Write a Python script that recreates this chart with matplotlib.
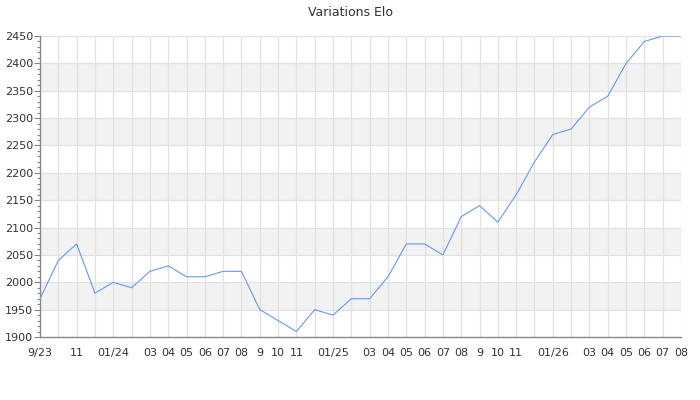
import matplotlib
matplotlib.use("Agg")
import matplotlib.pyplot as plt
from matplotlib.ticker import MultipleLocator

# one point per month, 9/23 .. 08/26
months = list(range(36))
elo = [1970, 2040, 2070, 1980, 2000, 1990, 2020, 2030, 2010, 2010, 2020, 2020,
       1950, 1930, 1910, 1950, 1940, 1970, 1970, 2010, 2070, 2070, 2050, 2120,
       2140, 2110, 2160, 2220, 2270, 2280, 2320, 2340, 2400, 2440, 2450, 2450]

tick_pos = [0, 2, 4, 6, 7, 8, 9, 10, 11, 12, 13, 14, 16, 18, 19, 20, 21, 22, 23,
            24, 25, 26, 28, 30, 31, 32, 33, 34, 35]
tick_lab = ["9/23", "11", "01/24", "03", "04", "05", "06", "07", "08", "9", "10", "11",
            "01/25", "03", "04", "05", "06", "07", "08", "9", "10", "11",
            "01/26", "03", "04", "05", "06", "07", "08"]

ymin, ymax = 1900, 2450
txt = "#333333"

fig = plt.figure(figsize=(7, 4), dpi=100)
ax = fig.add_axes([40/700, 63/400, 641/700, 301/400])

# alternating bands
for lo in range(1950, ymax, 100):
    ax.axhspan(lo, lo + 50, color="#f2f2f2", zorder=0, lw=0)

for m in months:
    ax.axvline(m, color="#e2e2e2", lw=0.9, zorder=1)
for v in range(ymin + 50, ymax + 1, 50):
    ax.axhline(v, color="#e2e2e2", lw=0.9, zorder=1)

ax.plot(months, elo, color="#6a98ee", lw=0.8, zorder=3)

ax.set_xlim(0, 35)
ax.set_ylim(ymin, ymax)
ax.yaxis.set_major_locator(MultipleLocator(50))
ax.yaxis.set_minor_locator(MultipleLocator(10))
ax.set_xticks(tick_pos)
ax.set_xticklabels(tick_lab)

ax.tick_params(axis="y", which="major", length=4, width=0.8, color="#888888",
               labelsize=8, labelcolor=txt, pad=1)
ax.tick_params(axis="y", which="minor", length=2.5, width=0.8, color="#888888")
ax.tick_params(axis="x", length=0, labelsize=8, labelcolor=txt, pad=8)

for s in ["top", "right"]:
    ax.spines[s].set_visible(False)
for s in ["left", "bottom"]:
    ax.spines[s].set_color("#888888")
    ax.spines[s].set_linewidth(1)

fig.text(0.5, 1 - 12/400, "Variations Elo", ha="center", va="center",
         fontsize=9, color=txt)

fig.savefig("out.png", dpi=100)
